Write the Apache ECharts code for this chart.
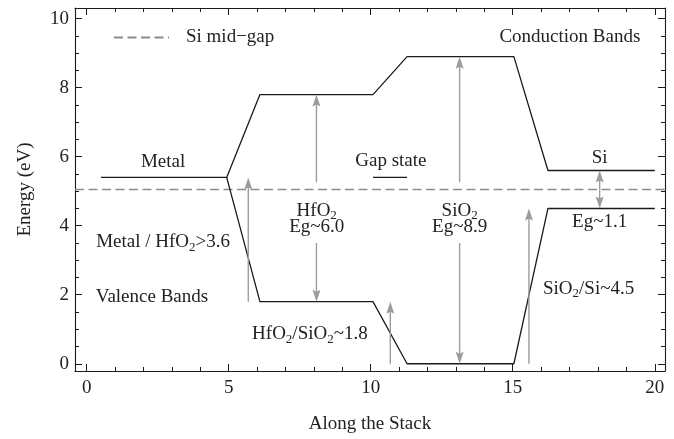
<!DOCTYPE html>
<html>
<head>
<meta charset="utf-8">
<script src="https://cdn.jsdelivr.net/npm/echarts@6/dist/echarts.min.js"></script>
<style>
  html, body { margin: 0; padding: 0; background: #fff; }
  #chart { width: 674px; height: 439px; }
</style>
</head>
<body>
<div id="chart"></div>
<script>
// Band edges along the gate stack: [position, energy (eV)]
const conductionBand = [[0.5, 5.4], [4.93, 5.4], [6.1, 7.8], [10.08, 7.8], [11.28, 8.9], [15.04, 8.9], [16.24, 5.6], [20, 5.6]];
const valenceBand = [[4.93, 5.4], [6.1, 1.8], [10.08, 1.8], [11.28, 0], [15.04, 0], [16.24, 4.5], [20, 4.5]];
const gapState = [[10.08, 5.4], [11.28, 5.4]];
const siMidGap = 5.05;

// Offset / gap arrows: [position, from energy, to energy]
const arrows = [
  [5.69, 1.8, 5.4],
  [8.09, 5.26, 7.8], [8.09, 3.5, 1.8],
  [13.13, 5.26, 8.9], [13.13, 3.5, 0],
  [10.69, 0, 1.8],
  [15.57, 0, 4.5],
  [18.06, 5.05, 5.6], [18.06, 5.05, 4.5]
];

// Annotations: [position, energy, text]  ({s|..} = subscript)
const notes = [
  [17.01, 9.48, 'Conduction Bands'],
  [2.69, 5.85, 'Metal'],
  [10.71, 5.88, 'Gap state'],
  [18.06, 5.96, 'Si'],
  [8.1, 4.44, 'HfO{s|2}'],
  [8.1, 3.96, 'Eg~6.0'],
  [13.13, 4.44, 'SiO{s|2}'],
  [13.13, 3.96, 'Eg~8.9'],
  [18.06, 4.11, 'Eg~1.1'],
  [2.69, 3.54, 'Metal / HfO{s|2}>3.6'],
  [2.3, 1.92, 'Valence Bands'],
  [7.86, 0.86, 'HfO{s|2}/SiO{s|2}~1.8'],
  [17.67, 2.18, 'SiO{s|2}/Si~4.5']
];

// Axis ranges and ticks
const xRange = [-0.41, 20.36];
const yRange = [-0.21, 10.31];
const xMajorTicks = [0, 5, 10, 15, 20];
const xMinorTicks = [1, 2, 3, 4, 6, 7, 8, 9, 11, 12, 13, 14, 16, 17, 18, 19];
const yMajorTicks = [0, 2, 4, 6, 8, 10];
const yMinorTicks = [0.5, 1, 1.5, 2.5, 3, 3.5, 4.5, 5, 5.5, 6.5, 7, 7.5, 8.5, 9, 9.5];

const FONT = 'Liberation Serif';
const INK = '#1a1a1a';
const TEXT = '#222';
const ARROW = '#9c9c9c';
const DASH = '#8c8c8c';

const chart = echarts.init(document.getElementById('chart'), null, { renderer: 'canvas' });

// One frame side: ticks drawn inward at the given values
function frameAxis(dim, position, range, ticks, len, opts) {
  const ax = {
    type: 'value',
    position: position,
    min: range[0],
    max: range[1],
    axisLine: { show: opts.line, onZero: false, lineStyle: { color: INK, width: 1.1 } },
    axisTick: { show: true, inside: true, length: len, customValues: ticks, lineStyle: { color: INK, width: 1 } },
    axisLabel: opts.labels
      ? { show: true, customValues: ticks, color: TEXT, fontFamily: FONT, fontSize: 19, margin: dim === 'x' ? 8 : 6 }
      : { show: false },
    splitLine: { show: false }
  };
  if (opts.name) {
    ax.name = opts.name;
    ax.nameLocation = 'middle';
    ax.nameGap = opts.nameGap;
    ax.nameTextStyle = { color: TEXT, fontFamily: FONT, fontSize: 19 };
  }
  return ax;
}

const xAxes = [
  frameAxis('x', 'bottom', xRange, xMajorTicks, 7, { line: true, labels: true, name: 'Along the Stack', nameGap: 44 }),
  frameAxis('x', 'bottom', xRange, xMinorTicks, 4, { line: false, labels: false }),
  frameAxis('x', 'top', xRange, xMajorTicks, 7, { line: true, labels: false }),
  frameAxis('x', 'top', xRange, xMinorTicks, 4, { line: false, labels: false })
];
const yAxes = [
  frameAxis('y', 'left', yRange, yMajorTicks, 7, { line: true, labels: true, name: 'Energy (eV)', nameGap: 40 }),
  frameAxis('y', 'left', yRange, yMinorTicks, 4, { line: false, labels: false }),
  frameAxis('y', 'right', yRange, yMajorTicks, 7, { line: true, labels: false }),
  frameAxis('y', 'right', yRange, yMinorTicks, 4, { line: false, labels: false })
];

function bandSeries(name, data) {
  return {
    name: name,
    type: 'line',
    data: data,
    symbol: 'none',
    silent: true,
    lineStyle: { color: INK, width: 1.3 },
    z: 3
  };
}

// Vertical arrow with a slim notched head
function renderArrow(params, api) {
  const x = api.value(0);
  const p0 = api.coord([x, api.value(1)]);
  const p1 = api.coord([x, api.value(2)]);
  const dir = p1[1] < p0[1] ? -1 : 1;
  const headLen = 12, headHalf = 4;
  const baseY = p1[1] - dir * headLen;
  return {
    type: 'group',
    children: [
      {
        type: 'line',
        shape: { x1: p0[0], y1: p0[1], x2: p1[0], y2: p1[1] - dir * headLen * 0.7 },
        style: { stroke: ARROW, lineWidth: 1.4 }
      },
      {
        type: 'polygon',
        shape: { points: [[p1[0], p1[1]], [p1[0] - headHalf, baseY], [p1[0], baseY + dir * 2], [p1[0] + headHalf, baseY]] },
        style: { fill: ARROW }
      }
    ]
  };
}

function renderNote(params, api) {
  const p = api.coord([api.value(0), api.value(1)]);
  return {
    type: 'text',
    x: p[0],
    y: p[1],
    style: {
      text: notes[params.dataIndex][2],
      fontFamily: FONT,
      fontSize: 19,
      lineHeight: 30,
      fill: TEXT,
      align: 'center',
      verticalAlign: 'middle',
      rich: {
        s: { fontFamily: FONT, fontSize: 13, fill: TEXT, padding: [11, 0, 0, 0] }
      }
    }
  };
}

const option = {
  backgroundColor: '#fff',
  animation: false,
  grid: { left: 75, right: 9, top: 8, bottom: 66, containLabel: false },
  legend: {
    data: ['Si mid\u2212gap'],
    left: 113,
    top: 28,
    padding: 0,
    itemWidth: 55,
    itemHeight: 18,
    selectedMode: false,
    itemStyle: { color: 'rgba(0,0,0,0)', borderWidth: 0, opacity: 0 },
    textStyle: { color: TEXT, fontFamily: FONT, fontSize: 19, padding: [0, 0, 0, 12] }
  },
  xAxis: xAxes,
  yAxis: yAxes,
  series: [
    {
      name: 'Si mid\u2212gap',
      type: 'line',
      data: [[xRange[0], siMidGap], [xRange[1], siMidGap]],
      symbol: 'none',
      silent: true,
      itemStyle: { color: DASH },
      lineStyle: { color: DASH, width: 1.4, type: [9, 4.5] },
      z: 2
    },
    bandSeries('Conduction', conductionBand),
    bandSeries('Valence', valenceBand),
    bandSeries('Gap state', gapState),
    {
      name: 'arrows',
      type: 'custom',
      data: arrows,
      encode: { x: 0, y: [1, 2] },
      renderItem: renderArrow,
      silent: true,
      z: 4
    },
    {
      name: 'notes',
      type: 'custom',
      data: notes.map(n => [n[0], n[1]]),
      encode: { x: 0, y: 1 },
      renderItem: renderNote,
      silent: true,
      clip: false,
      z: 5
    }
  ]
};

chart.setOption(option);
</script>
</body>
</html>
